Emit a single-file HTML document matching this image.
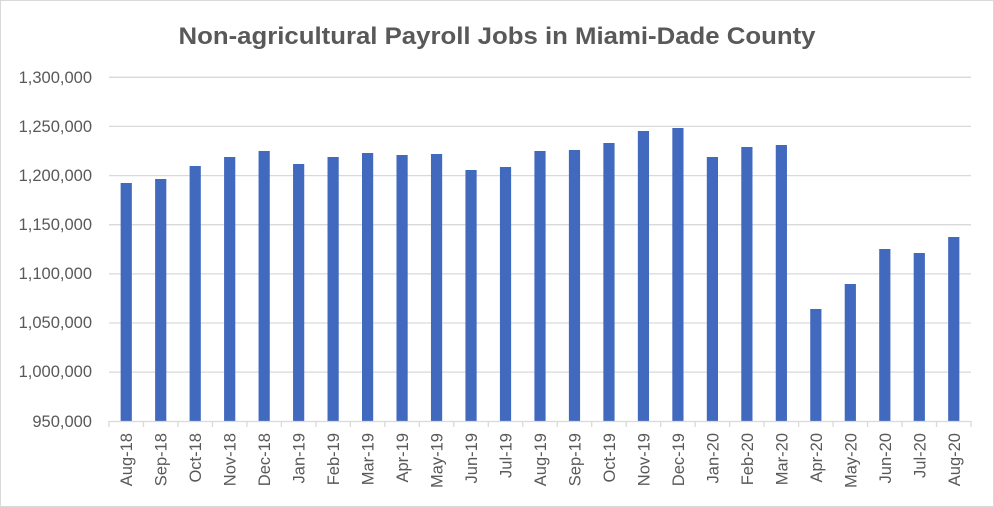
<!DOCTYPE html>
<html><head><meta charset="utf-8"><style>
html,body{margin:0;padding:0;background:#fff}
svg{display:block}
text{font-family:"Liberation Sans",sans-serif;fill:#595959}
</style></head><body>
<svg width="994" height="507" viewBox="0 0 994 507" xmlns="http://www.w3.org/2000/svg">
<rect x="0.5" y="0.5" width="993" height="506" fill="#fff" stroke="#d9d9d9"/>
<text x="497" y="44" text-anchor="middle" font-size="24" font-weight="bold" textLength="637" lengthAdjust="spacingAndGlyphs">Non-agricultural Payroll Jobs in Miami-Dade County</text>
<g stroke="#d9d9d9" stroke-width="1.3">
<line x1="109" x2="971" y1="77.3" y2="77.3"/>
<line x1="109" x2="971" y1="126.4" y2="126.4"/>
<line x1="109" x2="971" y1="175.6" y2="175.6"/>
<line x1="109" x2="971" y1="224.7" y2="224.7"/>
<line x1="109" x2="971" y1="273.9" y2="273.9"/>
<line x1="109" x2="971" y1="323" y2="323"/>
<line x1="109" x2="971" y1="372.1" y2="372.1"/>
</g>
<g font-size="16.5" text-anchor="end">
<text x="92" y="83">1,300,000</text>
<text x="92" y="132">1,250,000</text>
<text x="92" y="181">1,200,000</text>
<text x="92" y="230">1,150,000</text>
<text x="92" y="279">1,100,000</text>
<text x="92" y="328">1,050,000</text>
<text x="92" y="377">1,000,000</text>
<text x="92" y="427">950,000</text>
</g>
<g fill="#4169be" id="bars"></g>
<g id="ax" stroke="#d9d9d9" stroke-width="1.3"><line x1="109" x2="971" y1="421.5" y2="421.5"/></g>
<g id="lbl" font-size="16.5"></g>
</svg>
<script>
var tops=[183,179,166,157,151,164,157,153,155,154,170,167,151,150,143,131,128,157,147,145,309,284,249,253,237];
var labs=["Aug-18","Sep-18","Oct-18","Nov-18","Dec-18","Jan-19","Feb-19","Mar-19","Apr-19","May-19","Jun-19","Jul-19","Aug-19","Sep-19","Oct-19","Nov-19","Dec-19","Jan-20","Feb-20","Mar-20","Apr-20","May-20","Jun-20","Jul-20","Aug-20"];
var ns="http://www.w3.org/2000/svg",w=(971-109)/25;
var b=document.getElementById("bars"),a=document.getElementById("ax"),l=document.getElementById("lbl");
for(var i=0;i<25;i++){
 var c=109+w*(i+0.5);
 var r=document.createElementNS(ns,"rect");
 r.setAttribute("x",c-5.6);r.setAttribute("y",tops[i]);r.setAttribute("width",11.2);r.setAttribute("height",421-tops[i]);b.appendChild(r);
 var t=document.createElementNS(ns,"line");
 t.setAttribute("x1",109+w*i);t.setAttribute("x2",109+w*i);t.setAttribute("y1",421);t.setAttribute("y2",427);a.appendChild(t);
 var tx=document.createElementNS(ns,"text");
 tx.setAttribute("transform","translate("+(c+6)+",433) rotate(-90)");
 tx.setAttribute("text-anchor","end");tx.textContent=labs[i];l.appendChild(tx);
}
var t2=document.createElementNS(ns,"line");t2.setAttribute("x1",971);t2.setAttribute("x2",971);t2.setAttribute("y1",421);t2.setAttribute("y2",427);a.appendChild(t2);
</script>
</body></html>
